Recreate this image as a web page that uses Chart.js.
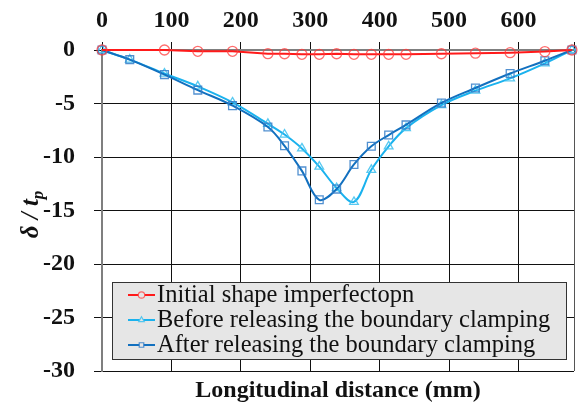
<!DOCTYPE html>
<html>
<head>
<meta charset="utf-8">
<script src="https://cdn.jsdelivr.net/npm/chart.js@4.4.1/dist/chart.umd.min.js"></script>
<style>
  body { margin: 0; background: #ffffff; }
  #wrap { width: 581px; height: 407px; }
</style>
</head>
<body>
<div id="wrap"><canvas id="profileChart" width="581" height="407"></canvas></div>
<script>
// Data
const xInitial = [0, 90, 138, 188, 239, 263, 288, 313, 338, 363, 388, 413, 438, 489, 538, 588, 638, 677];
const yInitial = [0, 0, -0.12, -0.12, -0.34, -0.35, -0.4, -0.4, -0.35, -0.4, -0.4, -0.4, -0.4, -0.35, -0.3, -0.25, -0.15, 0];

const xClamp = [0, 40, 90, 138, 188, 239, 263, 288, 313, 338, 363, 388, 413, 438, 489, 538, 588, 638, 677];
const yBefore = [0, -0.9, -2.2, -3.4, -4.9, -6.9, -7.9, -9.2, -10.9, -12.9, -14.2, -11.2, -9.0, -7.3, -5.15, -3.8, -2.65, -1.25, 0];
const yAfter = [0, -0.9, -2.3, -3.75, -5.2, -7.2, -8.95, -11.3, -14.0, -13.0, -10.7, -9.0, -7.95, -7.0, -4.95, -3.55, -2.2, -1.0, 0];

const seriesLabels = [
    'Initial shape imperfectopn',
    'Before releasing the boundary clamping',
    'After releasing the boundary clamping'
];

const xTicks = [0, 100, 200, 300, 400, 500, 600];
const yTicks = [0, -5, -10, -15, -20, -25, -30];

const serif = "'Liberation Serif', 'Times New Roman', serif";

function toPoints(xs, ys) {
    return xs.map((x, i) => ({ x: x, y: ys[i] }));
}

// y title with subscript + legend box drawn inside the plot
const customDraw = {
    id: 'customDraw',
    afterDraw(chart) {
        const ctx = chart.ctx;
        const area = chart.chartArea;

        // axis title  δ / t_p
        ctx.save();
        ctx.translate(30, (area.top + area.bottom) / 2 + 4);
        ctx.rotate(-Math.PI / 2);
        ctx.fillStyle = '#111';
        ctx.textBaseline = 'alphabetic';
        const mainFont = 'italic bold 25px ' + serif;
        const subFont = 'italic bold 17px ' + serif;
        ctx.font = mainFont;
        const w1 = ctx.measureText('δ / t').width;
        ctx.font = subFont;
        const w2 = ctx.measureText('p').width;
        let start = -(w1 + w2) / 2;
        ctx.font = mainFont;
        ctx.fillText('δ / t', start, 8);
        ctx.font = subFont;
        ctx.fillText('p', start + w1, 13);
        ctx.restore();

        // legend
        const box = { left: 112, top: 282, right: 566, bottom: 359 };
        ctx.save();
        ctx.fillStyle = '#e6e6e6';
        ctx.fillRect(box.left, box.top, box.right - box.left, box.bottom - box.top);
        ctx.strokeStyle = '#333';
        ctx.lineWidth = 1;
        ctx.strokeRect(box.left + 0.5, box.top + 0.5, box.right - box.left, box.bottom - box.top);

        chart.data.datasets.forEach((ds, i) => {
            const y = 295 + i * 25;
            ctx.strokeStyle = ds.borderColor;
            ctx.lineWidth = 2;
            ctx.beginPath();
            ctx.moveTo(128, y);
            ctx.lineTo(155, y);
            ctx.stroke();
            ctx.fillStyle = '#e6e6e6';
            ctx.strokeStyle = ds.pointBorderColor;
            ctx.lineWidth = 1.2;
            Chart.helpers.drawPoint(ctx, { pointStyle: ds.pointStyle, radius: 3.2, borderWidth: 1.2, rotation: 0 }, 141.5, y);

            ctx.fillStyle = '#111';
            ctx.font = '24.5px ' + serif;
            ctx.textBaseline = 'middle';
            ctx.textAlign = 'left';
            ctx.fillText(ds.label, 157, y + 1);
        });
        ctx.restore();
    }
};

const ctx = document.getElementById('profileChart').getContext('2d');

new Chart(ctx, {
    type: 'scatter',
    data: {
        datasets: [
            {
                label: seriesLabels[0],
                data: toPoints(xInitial, yInitial),
                showLine: true,
                borderColor: '#ff1a1a',
                borderWidth: 2,
                tension: 0,
                pointStyle: 'circle',
                pointRadius: 5,
                pointBorderWidth: 1.3,
                pointBorderColor: 'rgba(255, 60, 60, 0.75)',
                pointBackgroundColor: 'rgba(255, 255, 255, 0)',
                clip: false,
                order: 0
            },
            {
                label: seriesLabels[1],
                data: toPoints(xClamp, yBefore),
                showLine: true,
                borderColor: '#1ab2ee',
                borderWidth: 2,
                tension: 0.35,
                pointStyle: 'triangle',
                pointRadius: 5,
                pointBorderWidth: 1.3,
                pointBorderColor: 'rgba(70, 195, 240, 0.9)',
                pointBackgroundColor: 'rgba(255, 255, 255, 0)',
                clip: false,
                order: 2
            },
            {
                label: seriesLabels[2],
                data: toPoints(xClamp, yAfter),
                showLine: true,
                borderColor: '#1270bf',
                borderWidth: 2,
                tension: 0.35,
                pointStyle: 'rect',
                pointRadius: 5.5,
                pointBorderWidth: 1.3,
                pointBorderColor: 'rgba(50, 125, 200, 0.85)',
                pointBackgroundColor: 'rgba(255, 255, 255, 0)',
                clip: false,
                order: 1
            }
        ]
    },
    options: {
        responsive: false,
        animation: false,
        layout: { padding: { left: 0, right: 6, top: 0, bottom: 0 } },
        plugins: {
            legend: { display: false },
            tooltip: { enabled: false }
        },
        scales: {
            x: {
                type: 'linear',
                position: 'top',
                min: 0,
                max: 680,
                afterBuildTicks: (scale) => {
                    scale.ticks = xTicks.concat([680]).map(v => ({ value: v }));
                },
                afterFit: (scale) => { scale.height = 50; },
                grid: {
                    color: (c) => (c.tick && c.tick.value === 680) ? '#555' : '#111',
                    lineWidth: 1,
                    tickLength: 8,
                    tickColor: '#111'
                },
                border: { color: '#7f7f7f', width: 2 },
                ticks: {
                    color: '#111',
                    padding: 7,
                    maxRotation: 0,
                    font: { family: serif, size: 24, weight: 'bold' },
                    callback: (v) => xTicks.includes(v) ? v : ''
                }
            },
            xb: {
                type: 'linear',
                position: 'bottom',
                min: 0,
                max: 680,
                afterFit: (scale) => { scale.height = 36; },
                grid: { display: false, drawTicks: false },
                border: { display: false },
                ticks: { display: false },
                title: {
                    display: true,
                    text: 'Longitudinal distance (mm)',
                    color: '#111',
                    padding: { top: 0, bottom: 2 },
                    font: { family: serif, size: 24, weight: 'bold' }
                }
            },
            y: {
                type: 'linear',
                min: -30,
                max: 0,
                afterBuildTicks: (scale) => {
                    scale.ticks = yTicks.map(v => ({ value: v }));
                },
                afterFit: (scale) => { scale.width = 102; },
                grid: {
                    color: '#111',
                    lineWidth: 1,
                    tickLength: 8,
                    tickColor: '#111'
                },
                border: { color: '#7f7f7f', width: 2 },
                ticks: {
                    color: '#111',
                    padding: 19,
                    font: { family: serif, size: 24, weight: 'bold' }
                }
            }
        }
    },
    plugins: [customDraw]
});
</script>
</body>
</html>
